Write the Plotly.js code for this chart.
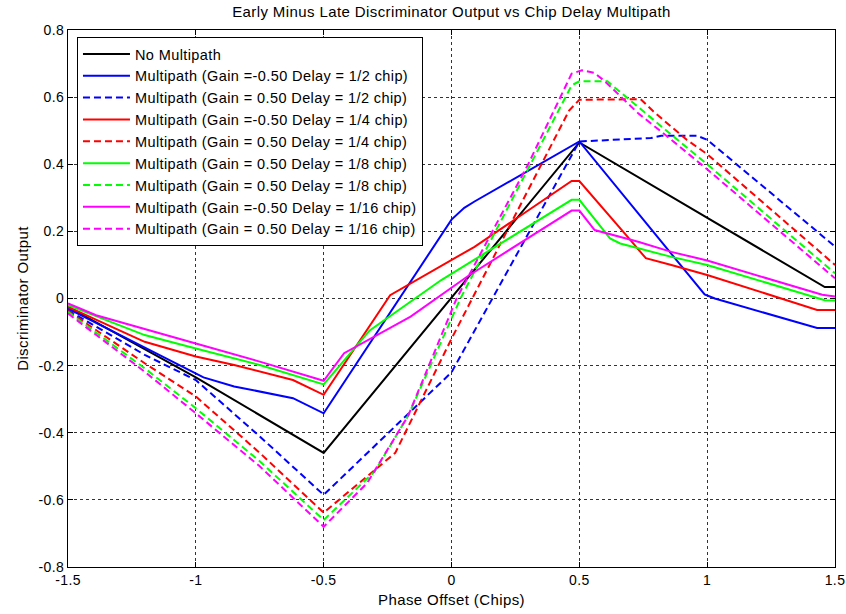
<!DOCTYPE html>
<html>
<head>
<meta charset="utf-8">
<script src="https://cdn.plot.ly/plotly-3.0.1.min.js"></script>
<style>
html,body{margin:0;padding:0;background:#fff;}
#chart{width:846px;height:614px;}
svg text{letter-spacing:0.4px;}
</style>
</head>
<body>
<div id="chart"></div>
<script>
// ---- data ----
const seriesNames = [
  "No Multipath",
  "Multipath (Gain =-0.50 Delay = 1/2 chip)",
  "Multipath (Gain = 0.50 Delay = 1/2 chip)",
  "Multipath (Gain =-0.50 Delay = 1/4 chip)",
  "Multipath (Gain = 0.50 Delay = 1/4 chip)",
  "Multipath (Gain = 0.50 Delay = 1/8 chip)",
  "Multipath (Gain = 0.50 Delay = 1/8 chip)",
  "Multipath (Gain =-0.50 Delay = 1/16 chip)",
  "Multipath (Gain = 0.50 Delay = 1/16 chip)"
];

const noMpX = [-1.5, -1.0, -0.5, 0.5, 1.46, 1.5];
const noMpY = [-0.025, -0.235, -0.46, 0.465, 0.034, 0.034];

const negHalfX = [-1.5, -1.2, -0.97, -0.85, -0.62, -0.5, 0.0, 0.05, 0.09, 0.5, 0.99, 1.03, 1.43, 1.5];
const negHalfY = [-0.03, -0.145, -0.235, -0.262, -0.297, -0.342, 0.235, 0.27, 0.289, 0.468, 0.012, 0.0, -0.088, -0.088];

const posHalfX = [-1.5, -1.2, -1.0, -0.75, -0.5, 0.0, 0.5, 0.78, 0.82, 0.96, 1.0, 1.5];
const posHalfY = [-0.035, -0.168, -0.243, -0.411, -0.585, -0.22, 0.468, 0.478, 0.485, 0.485, 0.473, 0.155];

const negQuarterX = [-1.5, -1.2, -1.0, -0.85, -0.62, -0.5, -0.24, 0.09, 0.47, 0.5, 0.70, 0.76, 0.86, 1.0, 1.43, 1.5];
const negQuarterY = [-0.025, -0.129, -0.173, -0.198, -0.243, -0.287, 0.01, 0.154, 0.35, 0.35, 0.174, 0.12, 0.1, 0.07, -0.034, -0.034];

const posQuarterX = [-1.5, -1.2, -1.0, -0.75, -0.5, -0.22, 0.0, 0.46, 0.5, 0.74, 0.79, 0.92, 1.0, 1.5];
const posQuarterY = [-0.037, -0.193, -0.292, -0.46, -0.638, -0.46, -0.12, 0.56, 0.592, 0.594, 0.557, 0.473, 0.43, 0.1];

const negEighthX = [-1.5, -1.2, -1.0, -0.75, -0.5, -0.32, -0.04, 0.47, 0.5, 0.62, 0.66, 0.86, 1.0, 1.46, 1.5];
const negEighthY = [-0.02, -0.109, -0.149, -0.198, -0.256, -0.095, 0.055, 0.294, 0.294, 0.179, 0.164, 0.124, 0.1, -0.005, -0.006];

const posEighthX = [-1.5, -1.2, -1.0, -0.75, -0.5, -0.3, -0.17, 0.035, 0.47, 0.5, 0.61, 0.73, 0.86, 1.0, 1.5];
const posEighthY = [-0.04, -0.208, -0.327, -0.485, -0.66, -0.515, -0.35, 0.0, 0.635, 0.647, 0.647, 0.572, 0.488, 0.40, 0.075];

const negSixteenthX = [-1.5, -1.39, -1.0, -0.75, -0.5, -0.42, -0.16, 0.065, 0.47, 0.5, 0.56, 0.73, 0.86, 1.0, 1.45, 1.5];
const negSixteenthY = [-0.015, -0.05, -0.134, -0.188, -0.245, -0.163, -0.054, 0.067, 0.262, 0.262, 0.204, 0.169, 0.139, 0.113, 0.011, 0.006];

const posSixteenthX = [-1.5, -1.2, -1.0, -0.75, -0.5, -0.33, -0.17, 0.02, 0.3, 0.47, 0.51, 0.56, 0.6, 0.73, 0.86, 1.0, 1.5];
const posSixteenthY = [-0.045, -0.218, -0.342, -0.5, -0.68, -0.55, -0.35, 0.0, 0.4, 0.67, 0.68, 0.672, 0.647, 0.552, 0.473, 0.385, 0.06];

const xTickVals = [-1.5, -1, -0.5, 0, 0.5, 1, 1.5];
const xTickText = ["-1.5", "-1", "-0.5", "0", "0.5", "1", "1.5"];
const yTickVals = [-0.8, -0.6, -0.4, -0.2, 0, 0.2, 0.4, 0.6, 0.8];
const yTickText = ["-0.8", "-0.6", "-0.4", "-0.2", "0", "0.2", "0.4", "0.6", "0.8"];

// ---- styles ----
const xs = [noMpX, negHalfX, posHalfX, negQuarterX, posQuarterX, negEighthX, posEighthX, negSixteenthX, posSixteenthX];
const ys = [noMpY, negHalfY, posHalfY, negQuarterY, posQuarterY, negEighthY, posEighthY, negSixteenthY, posSixteenthY];
const colors = ["#000000", "#0000ff", "#0000ff", "#ff0000", "#ff0000", "#00ff00", "#00ff00", "#ff00ff", "#ff00ff"];
const dashes = ["solid", "solid", "7px,4px", "solid", "7px,4px", "solid", "7px,4px", "solid", "7px,4px"];

const traces = xs.map((x, i) => ({
  type: "scatter",
  mode: "lines",
  x: x,
  y: ys[i],
  name: seriesNames[i],
  line: {color: colors[i], width: 2, dash: dashes[i]}
}));

const FONT = "'Liberation Sans', Arial, Helvetica, sans-serif";

const axisCommon = {
  showline: true,
  linecolor: "#000",
  linewidth: 1,
  mirror: "ticks",
  ticks: "inside",
  ticklen: 5,
  tickcolor: "#000",
  showgrid: true,
  gridcolor: "#333",
  gridwidth: 1,
  griddash: "3px,3px",
  zeroline: false,
  tickfont: {family: FONT, size: 14, color: "#000"}
};

const layout = {
  width: 846,
  height: 614,
  paper_bgcolor: "#fff",
  plot_bgcolor: "#fff",
  margin: {l: 68, r: 11, t: 30, b: 47},
  font: {family: FONT, color: "#000"},
  title: {
    text: "Early Minus Late Discriminator Output vs Chip Delay Multipath",
    font: {family: FONT, size: 15, color: "#000"},
    x: 0.5, xref: "paper", y: 0.981, yref: "container", yanchor: "middle"
  },
  xaxis: Object.assign({}, axisCommon, {
    range: [-1.5, 1.5],
    tickvals: xTickVals,
    ticktext: xTickText,
    title: {text: "Phase Offset (Chips)", font: {family: FONT, size: 15, color: "#000"}, standoff: 7}
  }),
  yaxis: Object.assign({}, axisCommon, {
    range: [-0.8, 0.8],
    tickvals: yTickVals,
    ticktext: yTickText,
    title: {text: "Discriminator Output", font: {family: FONT, size: 15, color: "#000"}, standoff: 6}
  }),
  showlegend: true,
  legend: {
    x: 0.0117, y: 0.987, xanchor: "left", yanchor: "top",
    bgcolor: "#fff", bordercolor: "#000", borderwidth: 1,
    font: {family: FONT, size: 14.5, color: "#000"},
    itemwidth: 47,
    tracegroupgap: 0
  }
};

Plotly.newPlot("chart", traces, layout, {staticPlot: true, displayModeBar: false});
</script>
</body>
</html>
